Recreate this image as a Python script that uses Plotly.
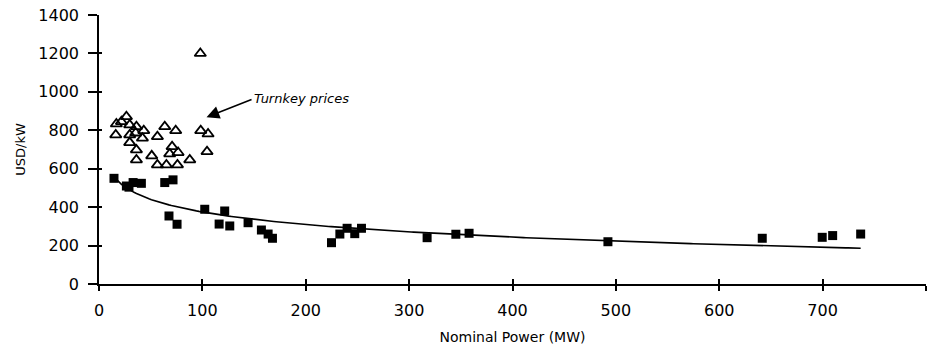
import numpy as np
import plotly.graph_objects as go

# Turnkey prices (open triangles)
turnkey_mw = [98, 26.5, 16.8, 16.2, 21.7, 29.7, 36.2, 29.7, 35.5, 43.3, 42, 29.7, 36.2, 36.2,
              56.5, 63.6, 74.2, 70.7, 68.4, 76.5, 51, 56.5, 65.2, 75.9, 87.8, 98.4, 105.5, 104.5]
turnkey_usd = [1200, 871, 833, 776, 845, 828, 819, 776, 786, 798, 759, 736, 698, 646,
               767, 819, 798, 715, 677, 684, 667, 620, 620, 620, 646, 798, 781, 689]

# Plant costs (filled squares)
plant_mw = [14.5, 29, 33, 41, 26.5, 63.6, 71.6, 67.7, 75.5, 102.3, 121.6, 116.2, 126.5,
            144.2, 157.1, 163.6, 167.8, 224.9, 233, 240, 247.4, 253.9, 317.4, 345.2, 358,
            492.3, 641.6, 699.6, 709.7, 736.8]
plant_usd = [550, 504, 528, 524, 510, 528, 542, 354, 311, 389, 380, 312, 302,
             319, 281, 260, 238, 215, 260, 290, 262, 290, 241, 259, 264,
             220, 238, 243, 252, 260]

x_ticks = [0, 100, 200, 300, 400, 500, 600, 700, 800]
y_ticks = [0, 200, 400, 600, 800, 1000, 1200, 1400]

# logarithmic trend line fitted to the plant cost data
b, a = np.polyfit(np.log(plant_mw), plant_usd, 1)
trend_x = np.linspace(min(plant_mw), max(plant_mw), 300)
trend_y = a + b * np.log(trend_x)

FONT = "DejaVu Sans"

fig = go.Figure()
fig.add_trace(go.Scatter(x=trend_x, y=trend_y, mode="lines",
                         line=dict(color="black", width=1.6), showlegend=False,
                         hoverinfo="skip"))
fig.add_trace(go.Scatter(x=plant_mw, y=plant_usd, mode="markers",
                         marker=dict(symbol="square", size=9, color="black"),
                         showlegend=False))
fig.add_trace(go.Scatter(x=turnkey_mw, y=turnkey_usd, mode="markers",
                         marker=dict(symbol="triangle-up-open", size=10, color="black",
                                     line=dict(width=1.8, color="black")),
                         showlegend=False))

# arrow pointing to turnkey cluster
fig.add_annotation(x=104, y=868, ax=149, ay=963, axref="x", ayref="y",
                   xref="x", yref="y", text="", showarrow=True,
                   arrowhead=2, arrowsize=1.6, arrowwidth=1.6, arrowcolor="black")
fig.add_annotation(x=148, y=963, xref="x", yref="y", text="<i>Turnkey prices</i>",
                   showarrow=False, xanchor="left", yanchor="middle",
                   font=dict(family=FONT, size=13, color="black"))

fig.update_layout(
    width=941, height=345,
    margin=dict(l=99, r=15, t=15, b=61, autoexpand=False),
    paper_bgcolor="white", plot_bgcolor="white",
    font=dict(family=FONT, color="black"),
    xaxis=dict(range=[0, 800], tickvals=x_ticks, ticktext=[str(v) for v in x_ticks],
               automargin=False,
               showgrid=False, zeroline=False, showline=True, linecolor="black",
               linewidth=1.5, ticks="outside", ticklen=5, tickwidth=1.5, tickcolor="black",
               tickfont=dict(family=FONT, size=16, color="black"),
               ticklabelstandoff=6,
               title=dict(text="Nominal Power (MW)", font=dict(family=FONT, size=14),
                          standoff=14)),
    yaxis=dict(range=[0, 1400], tickvals=y_ticks, ticktext=[str(v) for v in y_ticks],
               automargin=False,
               showgrid=False, zeroline=False, showline=True, linecolor="black",
               linewidth=1.5, ticks="outside", ticklen=9, tickwidth=1.5, tickcolor="black",
               tickfont=dict(family=FONT, size=16, color="black"),
               ticklabelstandoff=6,
               title=dict(text="USD/kW", font=dict(family=FONT, size=13), standoff=10)),
    xaxis2=dict(range=[0, 800], overlaying="x", anchor="y2", tickvals=x_ticks,
                automargin=False,
                showticklabels=False, showgrid=False, zeroline=False, showline=False,
                ticks="inside", ticklen=5, tickwidth=1.5, tickcolor="black", side="bottom"),
    yaxis2=dict(range=[0, 1400], overlaying="y", anchor="x2", tickvals=y_ticks,
                automargin=False,
                showticklabels=False, showgrid=False, zeroline=False, showline=False,
                ticks="inside", ticklen=3, tickwidth=1.5, tickcolor="black", side="left"),
)
# invisible trace to activate the overlay axes used for the inner tick halves
fig.add_trace(go.Scatter(x=[0], y=[0], xaxis="x2", yaxis="y2", mode="markers",
                         marker=dict(opacity=0), showlegend=False, hoverinfo="skip"))

fig.write_html("out.html")
